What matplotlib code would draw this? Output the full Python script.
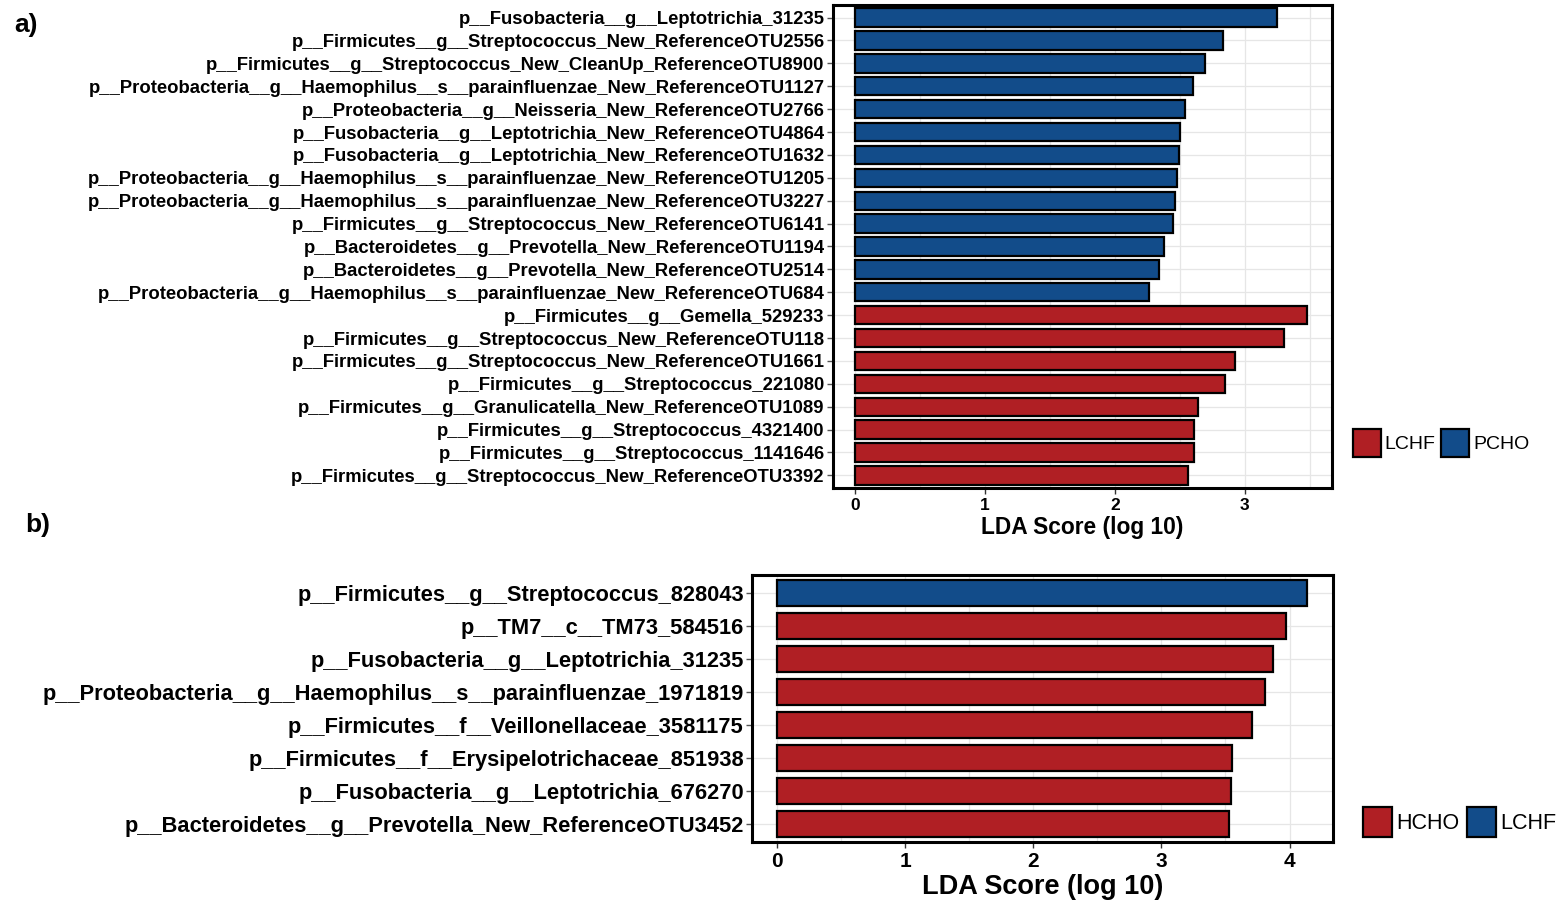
import matplotlib.pyplot as plt
from matplotlib.patches import Patch
from matplotlib.ticker import MultipleLocator

plt.rcParams['font.family'] = ['Liberation Sans', 'DejaVu Sans']

# LEfSe results, panel a (top to bottom)
taxa_a = [
    'p__Fusobacteria__g__Leptotrichia_31235',
    'p__Firmicutes__g__Streptococcus_New_ReferenceOTU2556',
    'p__Firmicutes__g__Streptococcus_New_CleanUp_ReferenceOTU8900',
    'p__Proteobacteria__g__Haemophilus__s__parainfluenzae_New_ReferenceOTU1127',
    'p__Proteobacteria__g__Neisseria_New_ReferenceOTU2766',
    'p__Fusobacteria__g__Leptotrichia_New_ReferenceOTU4864',
    'p__Fusobacteria__g__Leptotrichia_New_ReferenceOTU1632',
    'p__Proteobacteria__g__Haemophilus__s__parainfluenzae_New_ReferenceOTU1205',
    'p__Proteobacteria__g__Haemophilus__s__parainfluenzae_New_ReferenceOTU3227',
    'p__Firmicutes__g__Streptococcus_New_ReferenceOTU6141',
    'p__Bacteroidetes__g__Prevotella_New_ReferenceOTU1194',
    'p__Bacteroidetes__g__Prevotella_New_ReferenceOTU2514',
    'p__Proteobacteria__g__Haemophilus__s__parainfluenzae_New_ReferenceOTU684',
    'p__Firmicutes__g__Gemella_529233',
    'p__Firmicutes__g__Streptococcus_New_ReferenceOTU118',
    'p__Firmicutes__g__Streptococcus_New_ReferenceOTU1661',
    'p__Firmicutes__g__Streptococcus_221080',
    'p__Firmicutes__g__Granulicatella_New_ReferenceOTU1089',
    'p__Firmicutes__g__Streptococcus_4321400',
    'p__Firmicutes__g__Streptococcus_1141646',
    'p__Firmicutes__g__Streptococcus_New_ReferenceOTU3392',
]
lda_a = [3.25, 2.83, 2.69, 2.60, 2.54, 2.50, 2.49, 2.48, 2.46, 2.45, 2.38,
         2.34, 2.26, 3.48, 3.30, 2.92, 2.85, 2.64, 2.61, 2.61, 2.56]
group_a = ['PCHO'] * 13 + ['LCHF'] * 8

# panel b
taxa_b = [
    'p__Firmicutes__g__Streptococcus_828043',
    'p__TM7__c__TM73_584516',
    'p__Fusobacteria__g__Leptotrichia_31235',
    'p__Proteobacteria__g__Haemophilus__s__parainfluenzae_1971819',
    'p__Firmicutes__f__Veillonellaceae_3581175',
    'p__Firmicutes__f__Erysipelotrichaceae_851938',
    'p__Fusobacteria__g__Leptotrichia_676270',
    'p__Bacteroidetes__g__Prevotella_New_ReferenceOTU3452',
]
lda_b = [4.14, 3.97, 3.87, 3.81, 3.71, 3.55, 3.54, 3.53]
group_b = ['LCHF'] + ['HCHO'] * 7

RED = '#B01F24'
BLUE = '#124C8A'
colors_a = {'LCHF': RED, 'PCHO': BLUE}
colors_b = {'HCHO': RED, 'LCHF': BLUE}


def lda_panel(ax, taxa, scores, groups, cmap, xlim, label_size, tick_size, xlab_size):
    n = len(taxa)
    ypos = list(range(n))[::-1]
    ax.barh(ypos, scores, height=0.8, color=[cmap[g] for g in groups],
            edgecolor='black', linewidth=1.6, zorder=3)
    ax.set_yticks(ypos)
    ax.set_yticklabels(taxa, fontsize=label_size, fontweight='bold', color='black')
    ax.set_ylim(-0.55, n - 0.45)
    ax.set_xlim(*xlim)
    ax.xaxis.set_major_locator(MultipleLocator(1))
    ax.xaxis.set_minor_locator(MultipleLocator(0.5))
    ax.grid(True, which='both', color='#e6e6e6', linewidth=0.9, zorder=0)
    ax.set_axisbelow(True)
    ax.tick_params(axis='x', labelsize=tick_size, length=4, width=1, color='#333333', which='major')
    ax.tick_params(axis='x', which='minor', length=0)
    ax.tick_params(axis='y', length=4, width=1, color='#555555', pad=2)
    for lbl in ax.get_xticklabels():
        lbl.set_fontweight('bold')
    ax.set_xlabel('LDA Score (log 10)', fontsize=xlab_size, fontweight='bold', labelpad=2)
    for s in ax.spines.values():
        s.set_linewidth(2.2)
        s.set_color('black')


fig = plt.figure(figsize=(15.59, 9.06), dpi=100)

ax_a = fig.add_axes([0.5343, 0.4614, 0.3201, 0.5331])
lda_panel(ax_a, taxa_a, lda_a, group_a, colors_a, (-0.17, 3.67), 13.3, 12.5, 16.4)

ax_b = fig.add_axes([0.4824, 0.0706, 0.3727, 0.2947])
lda_panel(ax_b, taxa_b, lda_b, group_b, colors_b, (-0.195, 4.34), 15.75, 15, 19.5)

# legends
handles_a = [Patch(facecolor=colors_a[k], edgecolor='black', linewidth=1.6, label=k)
             for k in ['LCHF', 'PCHO']]
fig.legend(handles=handles_a, loc='center left', bbox_to_anchor=(0.8679, 0.511),
           ncol=2, frameon=False, fontsize=14, handlelength=1.43, handleheight=1.84,
           handletextpad=0.2, columnspacing=0.3, borderaxespad=0, borderpad=0)

handles_b = [Patch(facecolor=colors_b[k], edgecolor='black', linewidth=1.6, label=k)
             for k in ['HCHO', 'LCHF']]
fig.legend(handles=handles_b, loc='center left', bbox_to_anchor=(0.8743, 0.0927),
           ncol=2, frameon=False, fontsize=15.5, handlelength=1.33, handleheight=1.70,
           handletextpad=0.22, columnspacing=0.36, borderaxespad=0, borderpad=0)

fig.text(0.009, 0.972, 'a)', fontsize=19, fontweight='bold', va='center')
fig.text(0.016, 0.420, 'b)', fontsize=19, fontweight='bold', va='center')

fig.savefig('out.png', dpi=100)
